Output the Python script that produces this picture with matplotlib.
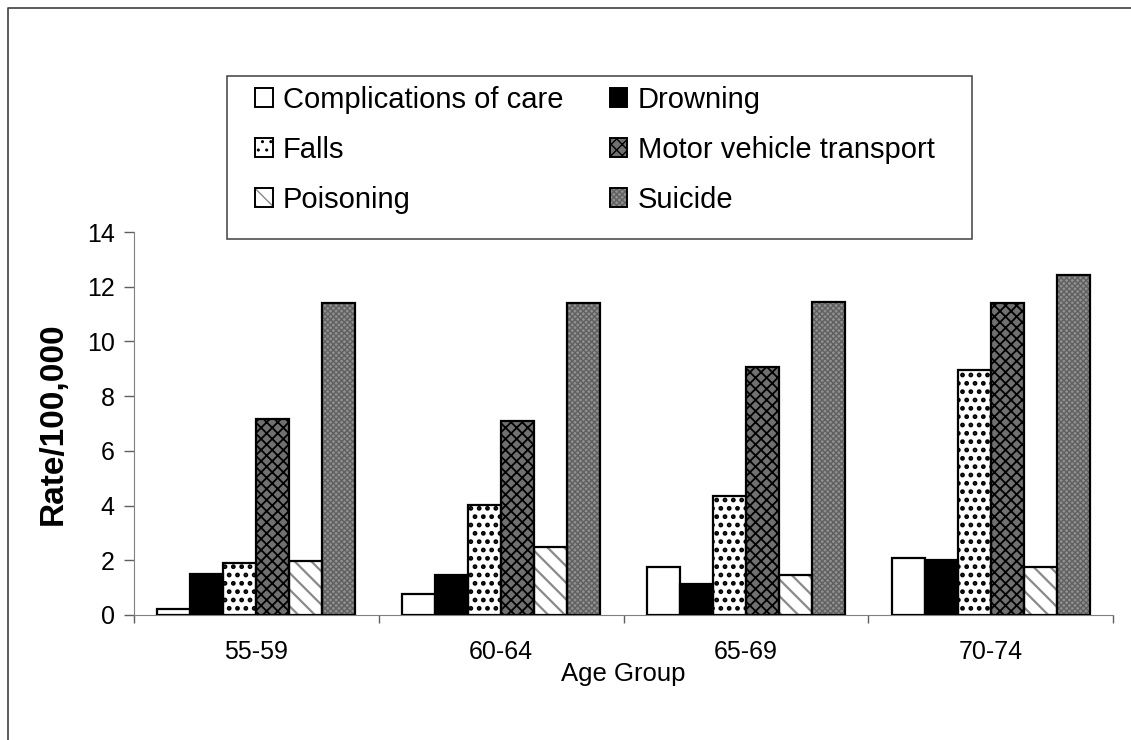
import matplotlib
matplotlib.use("Agg")
import matplotlib.pyplot as plt
from matplotlib.patches import Patch, Rectangle
from matplotlib.lines import Line2D
from matplotlib.legend_handler import HandlerTuple
import numpy as np

plt.rcParams['font.family'] = ['Liberation Sans', 'DejaVu Sans']

# --- DATA ---
age_groups = ["55-59", "60-64", "65-69", "70-74"]
complications = [0.22, 0.77, 1.75, 2.10]
drowning = [1.49, 1.46, 1.15, 2.00]
falls = [1.89, 4.02, 4.35, 8.95]
motor_vehicle = [7.15, 7.10, 9.05, 11.39]
poisoning = [1.98, 2.50, 1.45, 1.75]
suicide = [11.40, 11.40, 11.45, 12.43]

series_names = ["Complications of care", "Drowning", "Falls",
                "Motor vehicle transport", "Poisoning", "Suicide"]
series_vals = [complications, drowning, falls, motor_vehicle, poisoning, suicide]

# face colour, hatch, hatch colour, hatch width
styles = [
    ("white", None, "black", 1.0),
    ("black", None, "black", 1.0),
    ("white", "..", "black", 2.2),
    ("#707070", "xxx", "black", 1.3),
    ("white", "\\\\", "#8a8a8a", 1.6),
    ("#909090", "xxxxxx", "#606060", 1.0),
]


def set_hlw(p, lw):
    if hasattr(p, "set_hatch_linewidth"):
        p.set_hatch_linewidth(lw)


W, H = 1131, 740
fig = plt.figure(figsize=(W / 100, H / 100), dpi=100)
ax = fig.add_axes([134 / W, 1 - 615 / H, (1113 - 134) / W, (615 - 232) / H])

x = np.arange(len(age_groups))
bw = 33 / 245

handles = []
for i, (name, vals) in enumerate(zip(series_names, series_vals)):
    fc, hatch, hc, hlw = styles[i]
    pos = x + (i - 2.5) * bw
    bars = ax.bar(pos, vals, bw, color=fc, hatch=hatch, edgecolor=hc, linewidth=0, zorder=2)
    for p in bars:
        set_hlw(p, hlw)
    ax.bar(pos, vals, bw, fill=False, edgecolor="black", linewidth=1.6, zorder=3)
    h1 = Patch(facecolor=fc, hatch=hatch, edgecolor=hc, linewidth=0)
    set_hlw(h1, hlw)
    h2 = Patch(fill=False, edgecolor="black", linewidth=1.4)
    handles.append((h1, h2))

ax.set_xlim(-0.5, len(age_groups) - 0.5)
ax.set_ylim(0, 14)
ax.set_yticks(np.arange(0, 15, 2))
ax.set_xticks(x)
ax.set_xticklabels(age_groups, fontsize=18)
ax.set_xticks(np.arange(-0.5, len(age_groups), 1), minor=True)
ax.tick_params(axis='x', which='major', length=0, pad=18)
ax.tick_params(axis='x', which='minor', length=6, width=1, color="#606060")
ax.tick_params(axis='y', labelsize=18, length=7, width=1, color="#606060", pad=7)

for s in ["top", "right"]:
    ax.spines[s].set_visible(False)
ax.spines["left"].set_color("#808080")
ax.spines["bottom"].set_color("#808080")

ax.set_xlabel("Age Group", fontsize=18.5)
ax.xaxis.set_label_coords(0.5, -(674 - 615) / 383)
ax.xaxis.label.set_va("center")
ax.set_ylabel("Rate/100,000", fontsize=24, fontweight="bold")
ax.yaxis.set_label_coords((53 - 134) / 979, 0.5)
ax.yaxis.label.set_va("center")

# legend box
fig.patches.append(Rectangle((227 / W, 1 - 239 / H), (972 - 227) / W, (239 - 76) / H,
                             transform=fig.transFigure, facecolor="white",
                             edgecolor="#404040", linewidth=1.1, zorder=4))
order = [0, 2, 4, 1, 3, 5]
leg = fig.legend([handles[k] for k in order], [series_names[k] for k in order],
                 ncol=2, loc="upper left", bbox_to_anchor=(255 / W, 1 - 86 / H),
                 bbox_transform=fig.transFigure, frameon=False, borderpad=0,
                 borderaxespad=0, handlelength=0.6, handleheight=0.6,
                 handletextpad=0.35, columnspacing=1.6, labelspacing=0.75,
                 fontsize=21, handler_map={tuple: HandlerTuple(ndivide=1)})
leg.set_zorder(5)

# outer frame
fig.lines.append(Line2D([8 / W, 8 / W, 1], [0, 1 - 8 / H, 1 - 8 / H],
                        transform=fig.transFigure, color="#404040", linewidth=1.2))

fig.savefig("out.png", dpi=100)
